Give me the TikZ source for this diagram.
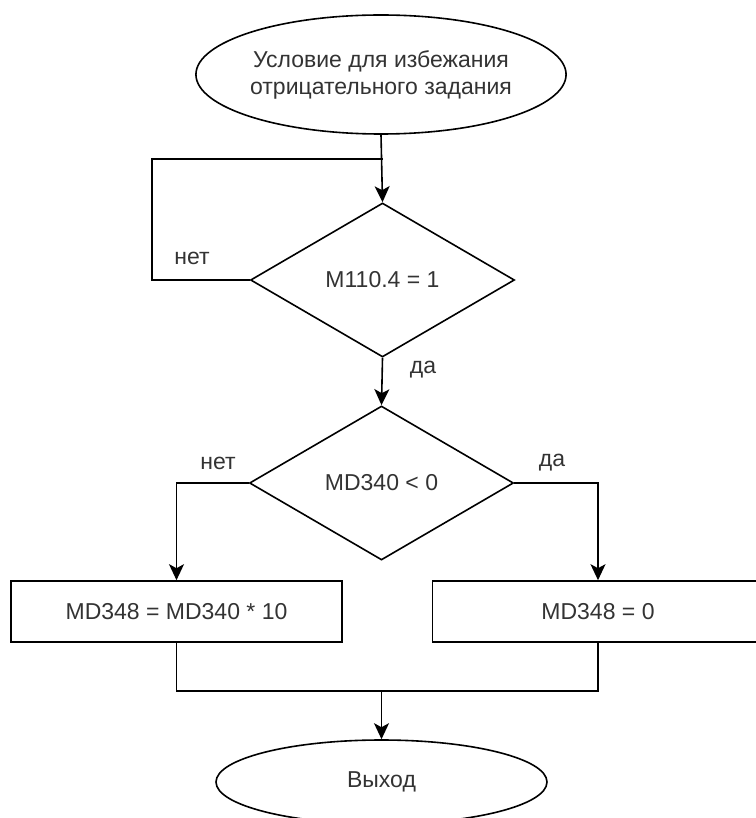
\documentclass[tikz,border=0pt]{standalone}
\usepackage{fontspec}
\setmainfont{Liberation Sans}
\usetikzlibrary{shapes.geometric,arrows.meta}
\tikzset{
  base/.style={draw=black, line width=1.6pt, inner sep=0pt, align=center,
    text=black!80, font=\fontsize{23}{27}\selectfont},
  term/.style={base, ellipse},
  decision/.style={base, diamond, minimum width=264pt, minimum height=154pt},
  proc/.style={base, rectangle, minimum width=331pt, minimum height=61pt},
  flow/.style={line width=1.6pt, -{Stealth[length=16pt,width=15pt,inset=4pt]}},
  plain/.style={line width=1.6pt},
  lbl/.style={text=black!80, font=\fontsize{23}{27}\selectfont, inner sep=0pt}
}
\begin{document}
\begin{tikzpicture}[x=1pt,y=-1pt]
\useasboundingbox (0,0) rectangle (755,818);
\node[term, minimum width=300pt, minimum height=119pt] (start) at (381,74.5)
  {Условие для избежания\\отрицательного задания};
\node[decision] (d1) at (382.5,280) {M110.4 = 1};
\node[decision] (d2) at (381.5,483) {MD340 < 0};
\node[proc] (pl) at (176.5,611.5) {MD348 = MD340 * 10};
\node[proc] (pr) at (598,611.5) {MD348 = 0};
\node[term, minimum width=331pt, minimum height=84pt] (stop) at (381.5,782) {Выход};

\coordinate (loopc) at (152,159);
\coordinate (merge) at (381.5,691);

\draw[flow] (start.south) -- (d1.north);
\draw[plain] (d1.west) -| (loopc) -- (loopc -| d1.north);
\draw[flow] (d1.south) -- (d2.north);
\draw[flow] (d2.west) -| (pl.north);
\draw[flow] (d2.east) -| (pr.north);
\draw[plain] (pl.south) |- (merge) -| (pr.south);
\draw[flow] (merge) -- (stop.north);

\node[lbl] (l1) at (192,258) {нет};
\node[lbl] (l2) at (423,370) {да};
\node[lbl] (l3) at (218,463) {нет};
\node[lbl] (l4) at (552,463) {да};
\end{tikzpicture}
\end{document}
